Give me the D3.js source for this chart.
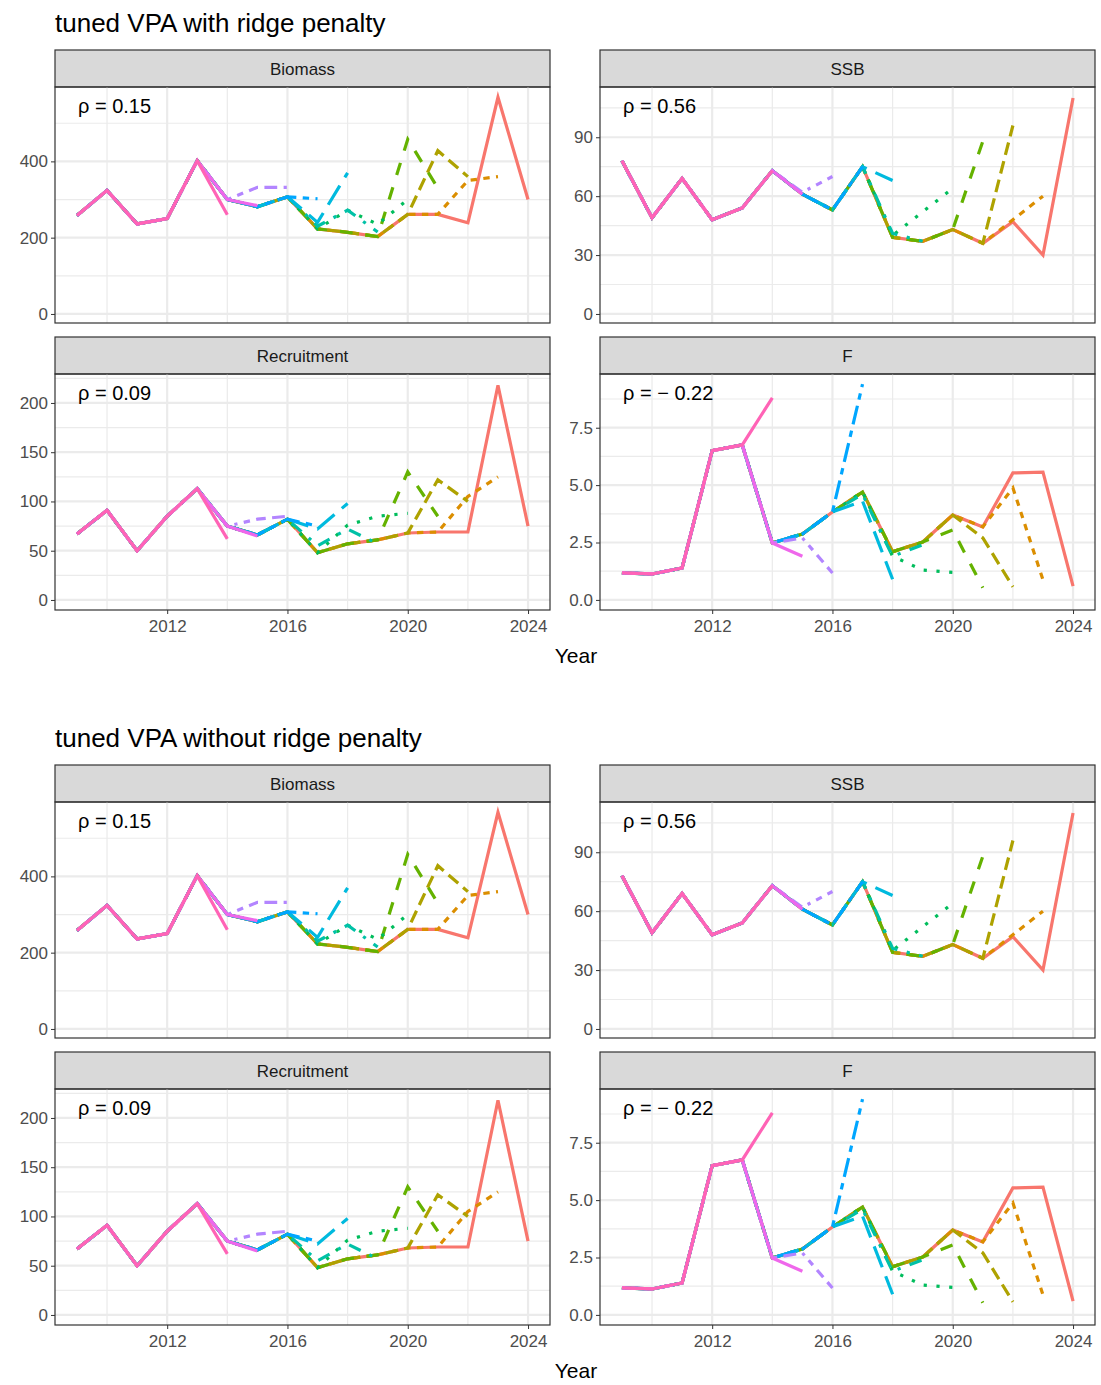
<!DOCTYPE html>
<html>
<head>
<script src="https://cdn.jsdelivr.net/npm/d3@7"></script>
<style>body{margin:0;background:#fff;font-family:Arial,"Liberation Sans",sans-serif;}</style>
</head>
<body>
<svg id="chart" width="1101" height="1385"></svg>
<script>
var years = [2009,2010,2011,2012,2013,2014,2015,2016,2017,2018,2019,2020,2021,2022,2023,2024];
var peels = [2024,2023,2022,2021,2020,2019,2018,2017,2016,2015,2014];
var colors = ["#F8766D","#DB8E00","#AEA200","#64B200","#00BD5C","#00C1A7","#00BADE","#00A6FF","#B385FF","#EF67EB","#FF63B6"];
var dashes = ["", "22","42","44","13","1343","73","2262","12223242","",""];

var biomass = [258,324,236,250,402,300,281,307,223,214,203,261,261,239,568,300];
var ssb = [78,49,69,48,54,73,61,53,75,39,37,43,36,47,30,110];
var recruit = [67,91,50,85,113,75,66,82,48,57,61,68,69,69,218,75];
var fmort = [1.18,1.13,1.39,6.5,6.75,2.48,2.87,3.83,4.7,2.1,2.52,3.7,3.18,5.53,5.57,0.6];

// peel overrides: [terminal year, {year: value}]
var biomassPeel = {2023:{2022:350,2023:360},2022:{2021:428,2022:360},2021:{2020:458,2021:330},
  2020:{2018:272,2019:235,2020:300},2019:{2017:230,2018:272,2019:215},2018:{2017:240,2018:370},
  2017:{2017:302},2016:{2015:332,2016:332},2015:{2015:284},2014:{2014:260}};
var ssbPeel = {2023:{2022:48,2023:60},2022:{2022:96},2021:{2021:88},2020:{2018:40,2019:52,2020:64},
  2019:{2018:41,2019:37},2018:{2018:68},2017:{},2016:{2015:62,2016:70},2015:{2015:61},2014:{}};
var recruitPeel = {2023:{2022:105,2023:125},2022:{2021:122,2022:100},2021:{2020:130,2021:85},
  2020:{2018:76,2019:85,2020:88},2019:{2017:55,2018:72,2019:57},2018:{2017:72,2018:98},
  2017:{2017:75},2016:{2015:82,2016:85},2015:{2015:65},2014:{2014:62}};
var fPeel = {2023:{2022:4.88,2023:0.87},2022:{2021:2.7,2022:0.57},2021:{2020:3.05,2021:0.53},
  2020:{2018:1.9,2019:1.3,2020:1.2},2019:{2017:4.6,2018:1.9,2019:2.4},2018:{2017:4.3,2018:0.9},
  2017:{2017:9.4},2016:{2015:2.7,2016:1.17},2015:{2015:1.9},2014:{2014:8.8}};

var panels = [
  {name:"Biomass", vals:biomass, peel:biomassPeel, rho:"0.15", dom:[-23.7,595], ticks:[0,200,400], minor:[100,300,500], fmt:d3.format("d")},
  {name:"SSB", vals:ssb, peel:ssbPeel, rho:"0.56", dom:[-4.6,115.6], ticks:[0,30,60,90], minor:[15,45,75,105], fmt:d3.format("d")},
  {name:"Recruitment", vals:recruit, peel:recruitPeel, rho:"0.09", dom:[-10.2,229.4], ticks:[0,50,100,150,200], minor:[25,75,125,175,225], fmt:d3.format("d")},
  {name:"F", vals:fmort, peel:fPeel, rho:"\u2212 0.22", dom:[-0.44,9.84], ticks:[0,2.5,5,7.5], minor:[1.25,3.75,6.25,8.75], fmt:d3.format(".1f")}
];
var titles = ["tuned VPA with ridge penalty","tuned VPA without ridge penalty"];

var svg = d3.select("#chart");
var lw = 3.2;

function series(p, t){
  var ov = p.peel[t] || {};
  var out = [];
  years.forEach(function(y,i){ if(y<=t) out.push({x:y, y: ov[y]!==undefined ? ov[y] : p.vals[i]}); });
  return out;
}

function drawBlock(oy, title){
  var g = svg.append("g").attr("transform","translate(0,"+oy+")");
  g.append("text").attr("x",55).attr("y",32).attr("font-size",26).attr("fill","#000").text(title);
  panels.forEach(function(p,k){
    var px = k%2===0 ? 55 : 600, py = k<2 ? 50 : 337;
    var w = 495, sh = 37, h = 236;
    var top = py+sh;
    var x = d3.scaleLinear().domain([2008.27,2024.73]).range([px,px+w]);
    var y = d3.scaleLinear().domain(p.dom).range([top+h,top]);
    g.append("rect").attr("x",px).attr("y",py).attr("width",w).attr("height",sh)
      .attr("fill","#d9d9d9").attr("stroke","#333").attr("stroke-width",1.2);
    g.append("text").attr("x",px+w/2).attr("y",py+sh/2+6).attr("text-anchor","middle")
      .attr("font-size",17).attr("fill","#1a1a1a").text(p.name);
    [2010,2014,2018,2022].forEach(function(v){
      g.append("line").attr("x1",x(v)).attr("x2",x(v)).attr("y1",top).attr("y2",top+h).attr("stroke","#ebebeb").attr("stroke-width",1.2);
    });
    p.minor.forEach(function(v){ if(v<p.dom[1])
      g.append("line").attr("x1",px).attr("x2",px+w).attr("y1",y(v)).attr("y2",y(v)).attr("stroke","#ebebeb").attr("stroke-width",1.2);
    });
    [2012,2016,2020,2024].forEach(function(v){
      g.append("line").attr("x1",x(v)).attr("x2",x(v)).attr("y1",top).attr("y2",top+h).attr("stroke","#ebebeb").attr("stroke-width",2.2);
    });
    p.ticks.forEach(function(v){
      g.append("line").attr("x1",px).attr("x2",px+w).attr("y1",y(v)).attr("y2",y(v)).attr("stroke","#ebebeb").attr("stroke-width",2.2);
    });
    var line = d3.line().x(function(d){return x(d.x);}).y(function(d){return y(d.y);});
    peels.forEach(function(t,i){
      var da = dashes[i] ? dashes[i].split("").map(function(c){return parseInt(c,16)*lw;}).join(",") : null;
      g.append("path").datum(series(p,t)).attr("d",line).attr("fill","none")
        .attr("stroke",colors[i]).attr("stroke-width",lw).attr("stroke-dasharray",da);
    });
    g.append("rect").attr("x",px).attr("y",top).attr("width",w).attr("height",h)
      .attr("fill","none").attr("stroke","#333").attr("stroke-width",1.2);
    var ya = g.append("g").attr("transform","translate("+px+",0)")
      .call(d3.axisLeft(y).tickValues(p.ticks).tickFormat(p.fmt).tickSize(4).tickPadding(3));
    ya.select(".domain").remove();
    ya.selectAll("text").attr("font-size",17).attr("fill","#4d4d4d").attr("font-family","Arial,'Liberation Sans',sans-serif");
    ya.selectAll("line").attr("stroke","#333");
    if(k>=2){
      var xa = g.append("g").attr("transform","translate(0,"+(top+h)+")")
        .call(d3.axisBottom(x).tickValues([2012,2016,2020,2024]).tickFormat(d3.format("d")).tickSize(4).tickPadding(6));
      xa.select(".domain").remove();
      xa.selectAll("text").attr("font-size",17).attr("fill","#4d4d4d").attr("font-family","Arial,'Liberation Sans',sans-serif");
      xa.selectAll("line").attr("stroke","#333");
    }
    g.append("text").attr("x",px+23).attr("y",top+26).attr("font-size",20).attr("fill","#000").text("\u03c1 = "+p.rho);
  });
  g.append("text").attr("x",576).attr("y",663).attr("text-anchor","middle").attr("font-size",21).attr("fill","#000").text("Year");
}
drawBlock(0, titles[0]);
drawBlock(715, titles[1]);
</script>
</body>
</html>
